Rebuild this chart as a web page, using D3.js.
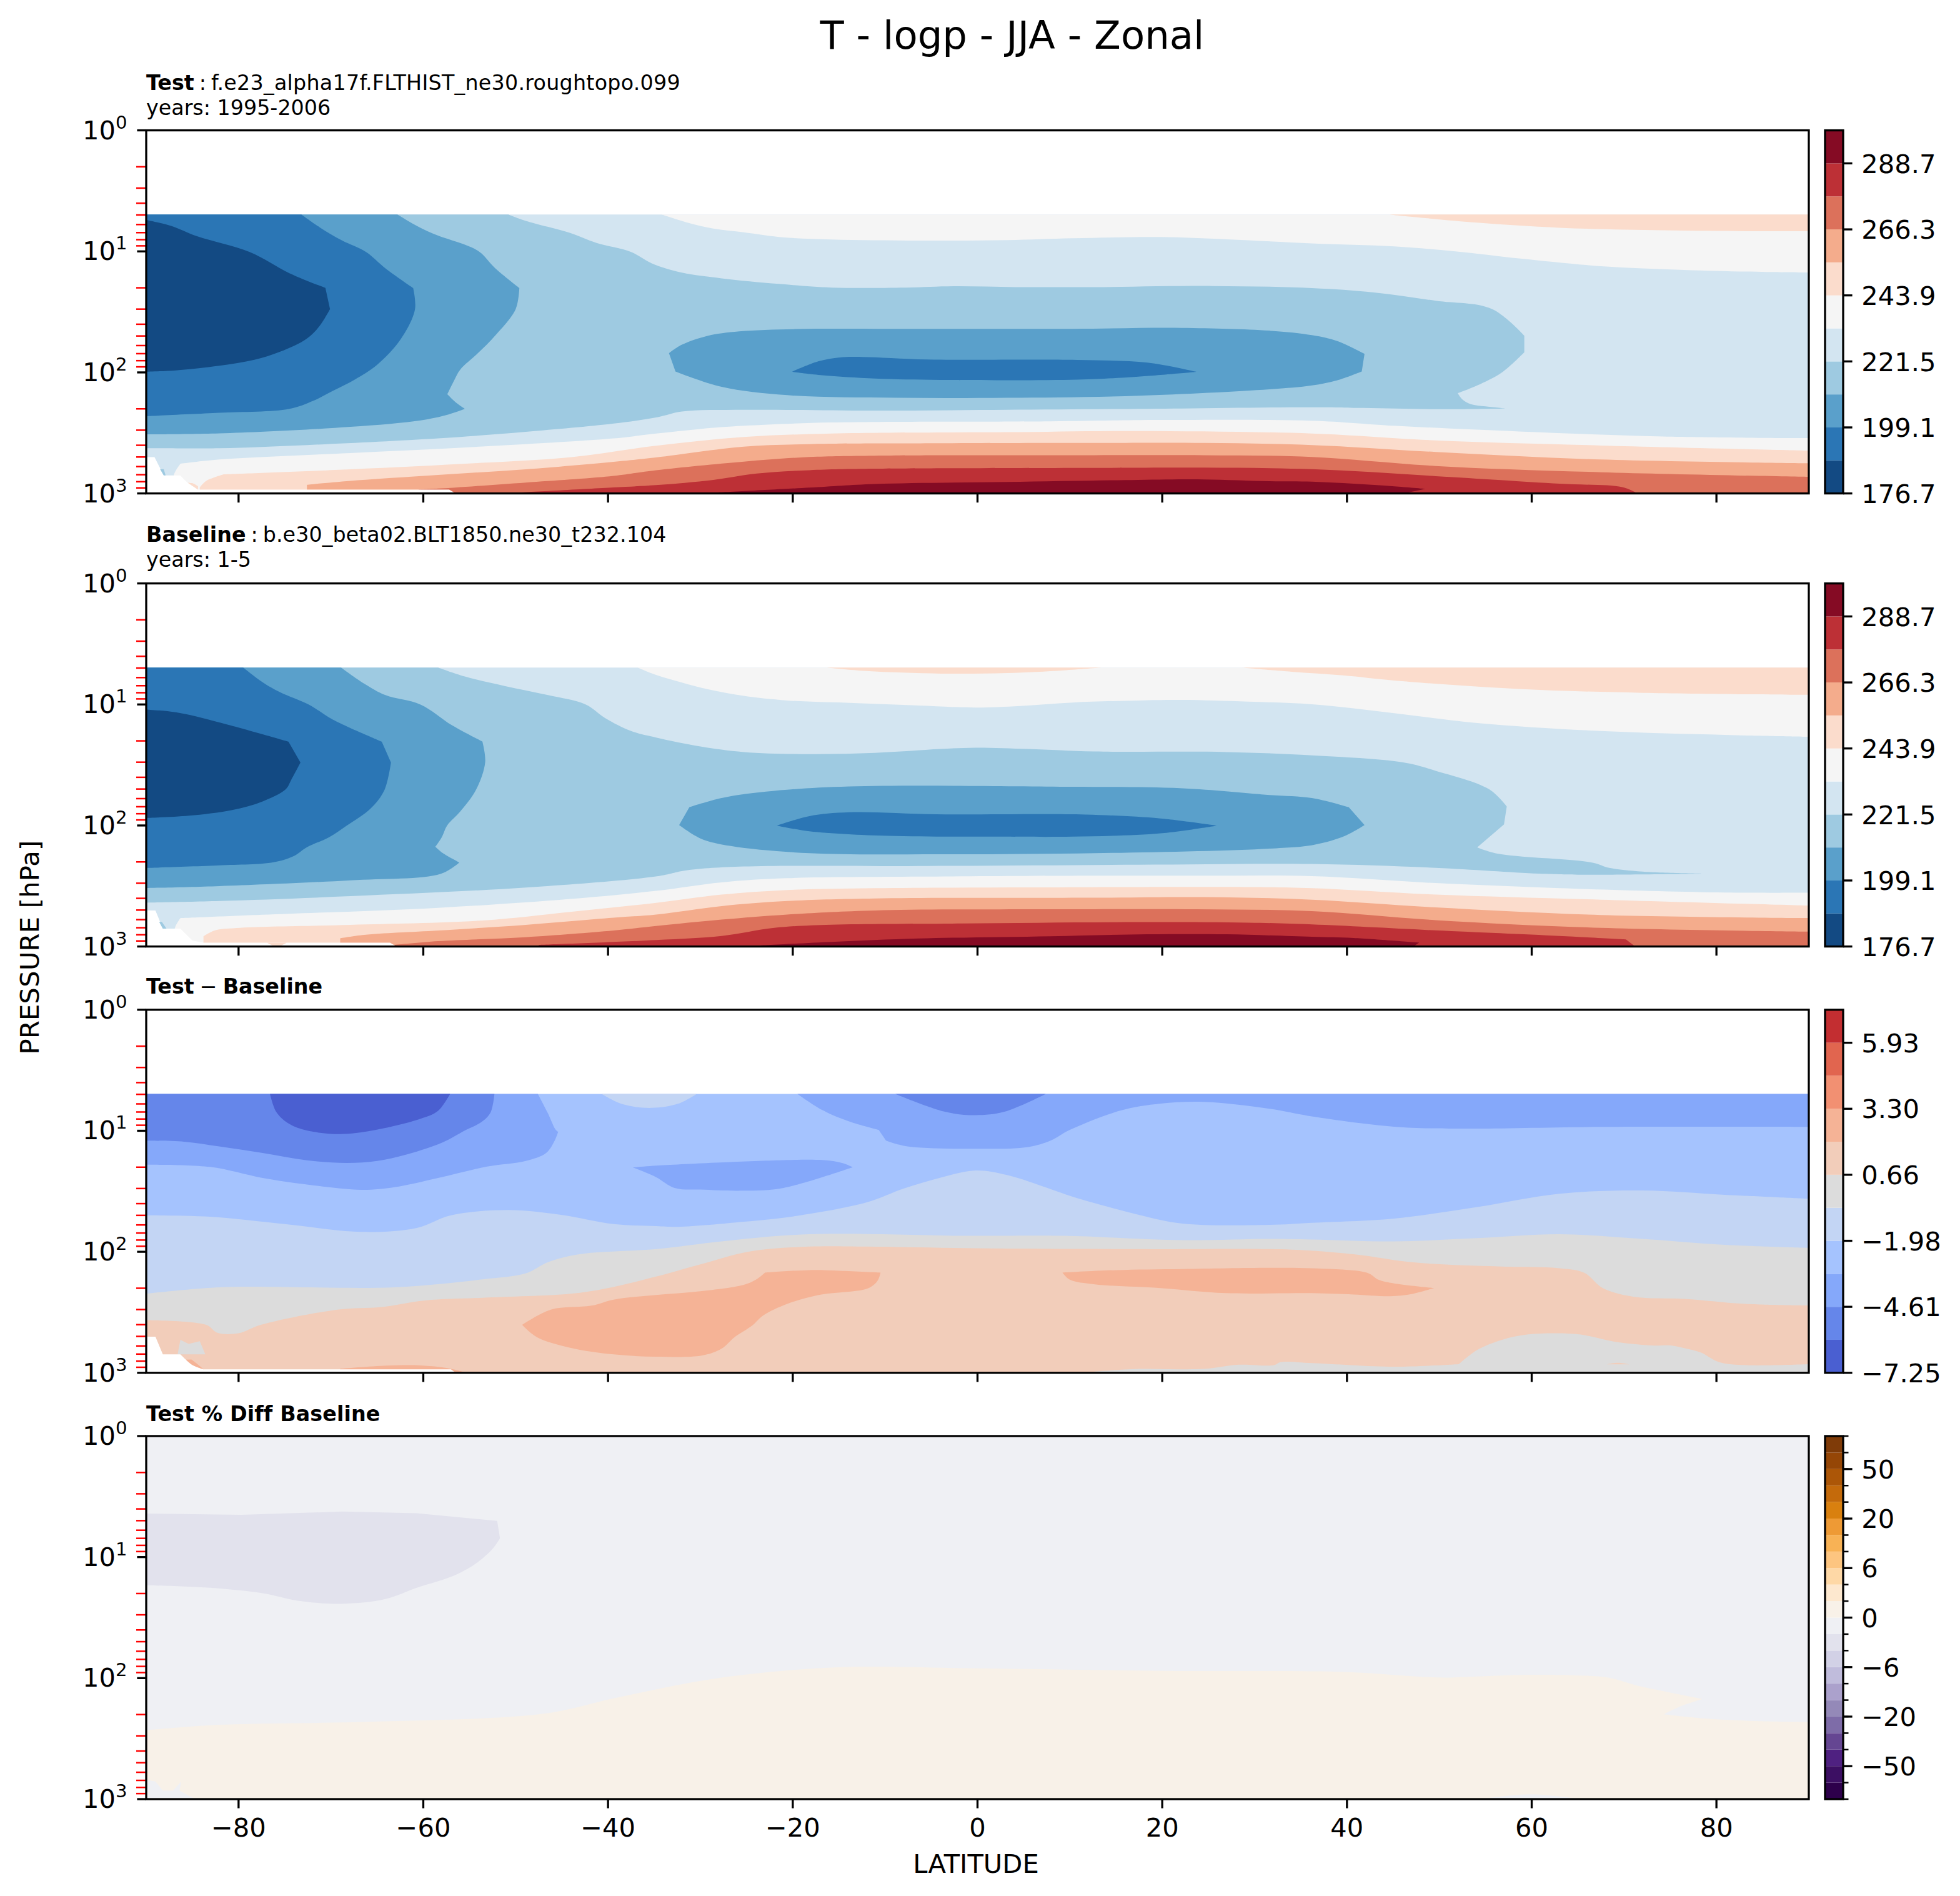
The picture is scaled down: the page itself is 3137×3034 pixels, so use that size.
<!DOCTYPE html>
<html lang="en">
<head>
<meta charset="UTF-8" />
<title>T - logp - JJA - Zonal</title>
<script src="https://d3js.org/d3.v7.min.js"></script>
<style>
  html, body { margin: 0; padding: 0; background: #fff; overflow: hidden; }
  svg { display: block; }
  text { font-family: "DejaVu Sans", sans-serif; fill: #000; }
</style>
</head>
<body>
<div id="chart"></div>
<script>
// axis values
const latTicks = [-80, -60, -40, -20, 0, 20, 40, 60, 80];
const pMajor = [1, 10, 100, 1000];
const pMinor = [2,3,4,5,6,7,8,9,20,30,40,50,60,70,80,90,200,300,400,500,600,700,800,900];

// colour bar levels, bottom to top
const tLevels = [176.7,187.9,199.1,210.3,221.5,232.7,243.9,255.1,266.3,277.5,288.7,299.9];
const tTicks = [176.7,199.1,221.5,243.9,266.3,288.7];
const diffLevels = [-7.25,-5.93,-4.61,-3.29,-1.98,-0.66,0.66,1.98,3.30,4.61,5.93,7.25];
const diffTicks = [-7.25,-4.61,-1.98,0.66,3.30,5.93];
const pctLevels = [-70,-60,-50,-40,-30,-20,-15,-10,-6,-4,-2,0,2,4,6,10,15,20,30,40,50,60,70];
const pctTicks = [-50,-20,-6,0,6,20,50];

const rdbu = ["#134a83","#2b76b5","#5aa0cb","#9ecae1","#d3e5f1","#f5f5f5","#fbdccc","#f4ac8c","#dc715b","#bd3036","#850b24"];
const cool = ["#4a5fd1","#6586ea","#85a8fa","#a5c3fe","#c3d5f4","#dcdcdc","#f2cdba","#f5b396","#f29072","#e1654f","#c32e31"];
const puor = ["#2d004b","#3c0f63","#4f2181","#654692","#7e6ca8","#9489b8","#aba1cc","#c0bcdc","#d2d1e6","#e2e2ed","#eff0f4",
              "#f8f1e8","#fde8cf","#fed8a6","#fdc580","#f8b255","#ee9a35","#d9800f","#c46a0b","#ac5607","#954606","#7f3b08"];

// contour regions, [latitude, log10(p hPa)]
const fullField = [[-90,.695],[90,.695],[90,3],[-90,3]];
const fullPanel = [[-90,0],[90,0],[90,3],[-90,3]];

// ---- Test
const testUp5 = [[-34.2,.695],[-31.4,.762],[-28.6,.812],[-25.3,.843],[-21.5,.881],[-15.8,.902],[-6.3,.911],[3.2,.907],[10.3,.892],[19.8,.881],[27,.90],[36.2,.934],[45.1,.959],[51.9,1.001],[58.6,1.058],[67.5,1.122],[76.5,1.153],[85.4,1.17],[90,1.174],[90,.695]];
const testUp6 = [[44.5,.695],[54.1,.763],[63,.805],[74.2,.826],[83.2,.833],[90,.833],[90,.695]];
const testB3 = [[-90,.695],[-50.8,.695],[-48.9,.748],[-44.1,.848],[-41.3,.929],[-37.5,1.005],[-35.6,1.086],[-34.8,1.113],[-32,1.176],[-27.7,1.223],[-21.5,1.269],[-15.8,1.299],[-7.7,1.299],[-2.5,1.288],[4.1,1.295],[12.7,1.295],[25.5,1.286],[36.2,1.303],[42.9,1.339],[49.6,1.408],[55.7,1.476],[59.2,1.697],[59.2,1.834],[56.8,1.999],[54.1,2.108],[52,2.172],[52.5,2.224],[53.4,2.262],[55,2.281],[57.1,2.298],[49.6,2.304],[41.8,2.294],[36.2,2.288],[22.1,2.298],[3.2,2.309],[-11.5,2.315],[-25.3,2.309],[-32,2.323],[-34.6,2.369],[-39.4,2.423],[-48.9,2.491],[-58.4,2.545],[-72.6,2.6],[-82.1,2.626],[-90,2.626]];
const testB2 = [[-90,.695],[-62.8,.695],[-60.7,.789],[-58.4,.87],[-55.5,.945],[-53.9,1.005],[-52.2,1.14],[-49.6,1.302],[-50,1.478],[-52.2,1.694],[-54.1,1.842],[-56,1.977],[-56.7,2.072],[-57.4,2.18],[-56.5,2.247],[-55.5,2.301],[-57.4,2.35],[-60.3,2.396],[-67.9,2.45],[-82.1,2.504],[-90,2.512]];
const testB1 = [[-90,.695],[-73.2,.695],[-71.2,.802],[-68.8,.91],[-66.2,1.005],[-64.1,1.14],[-61.1,1.302],[-60.9,1.478],[-62.4,1.72],[-65,1.937],[-67.4,2.058],[-69.8,2.153],[-71.9,2.234],[-74.5,2.301],[-82.1,2.334],[-90,2.361]];
const testB0 = [[-90,.74],[-87.3,.789],[-84.5,.875],[-78.8,1.005],[-74.5,1.18],[-70.6,1.302],[-70.1,1.478],[-71.2,1.613],[-72.6,1.72],[-75.5,1.829],[-78.3,1.896],[-82.1,1.945],[-86.8,1.983],[-90,1.994]];
const testMid2 = [[-33.4,1.841],[-32,1.771],[-29.3,1.699],[-25.8,1.661],[-19.6,1.642],[-8.7,1.64],[10.3,1.64],[22.1,1.632],[31.6,1.655],[36.3,1.693],[38.9,1.74],[41.9,1.847],[41.6,1.992],[38.9,2.066],[36.2,2.108],[31.6,2.14],[17.4,2.193],[3.2,2.21],[-8.7,2.21],[-20.6,2.188],[-27.7,2.119],[-32.7,1.992]];
const testMid1 = [[-20.1,1.995],[-17.2,1.908],[-14.9,1.876],[-12.5,1.872],[-5.4,1.893],[10.8,1.897],[18.4,1.919],[23.7,1.995],[17.4,2.035],[10.8,2.06],[-4,2.062],[-11.1,2.051],[-16.8,2.024]];
const testLow5 = [[-87,2.846],[-86.3,2.755],[-82.1,2.72],[-67.9,2.666],[-53.6,2.612],[-39.4,2.545],[-34.8,2.505],[-30,2.467],[-25.3,2.441],[-15.8,2.414],[7.9,2.404],[19.8,2.393],[36.2,2.399],[45.1,2.441],[58.6,2.488],[74.2,2.53],[90,2.543],[90,3],[-87,3]];
const testLow6 = [[-84.2,2.95],[-83.5,2.896],[-81.6,2.842],[-67.9,2.801],[-53.6,2.747],[-44.1,2.701],[-34.8,2.606],[-25.3,2.534],[-15.8,2.505],[3.2,2.494],[17.4,2.484],[36.2,2.505],[49.6,2.562],[67.5,2.604],[90,2.646],[90,3],[-84.2,3]];
const testLow7 = [[-72.6,2.968],[-72.6,2.928],[-67.9,2.896],[-58.4,2.847],[-48.9,2.801],[-39.4,2.739],[-34.8,2.703],[-25.3,2.614],[-18.2,2.593],[-11.1,2.587],[12.7,2.583],[24.5,2.583],[36.2,2.6],[49.6,2.657],[67.5,2.72],[90,2.751],[90,3],[-72.6,3]];
const testLow8 = [[-60.5,2.968],[-58.4,2.96],[-48.9,2.91],[-39.4,2.855],[-34.8,2.808],[-25.3,2.737],[-18.2,2.699],[-11.1,2.688],[12.7,2.684],[24.5,2.684],[36.2,2.699],[49.6,2.773],[67.5,2.825],[90,2.863],[90,3],[-60.5,3]];
const testLow9 = [[-49.8,2.993],[-39.4,2.95],[-34.8,2.931],[-28.6,2.888],[-23.9,2.836],[-18.2,2.808],[-11.1,2.796],[12.7,2.789],[24.5,2.787],[36.2,2.80],[49.6,2.857],[63,2.92],[69.8,2.948],[71.3,2.994],[71.3,3],[-49.8,3]];
const testLow10 = [[-28.6,2.994],[-18.2,2.952],[-11.1,2.922],[3.2,2.905],[17.4,2.888],[24.5,2.884],[31.6,2.899],[36.2,2.903],[40.7,2.92],[45.1,2.941],[48.5,2.962],[46.5,2.994],[46.5,3],[-28.6,3]];
const testMissing = [[-90,2.70],[-89.1,2.70],[-88.1,2.851],[-86.3,2.851],[-85.5,2.912],[-84.4,2.968],[-57.2,2.968],[-56.5,3],[-90,3]];
const testSliver3 = [[-88.5,2.80],[-88.1,2.80],[-87.9,2.851],[-88.1,2.851]];
const testSliver6 = [[-85.5,2.912],[-84.9,2.918],[-84.4,2.94],[-84.4,2.968]];

// ---- Baseline
const baseUp5 = [[-36.8,.695],[-34.8,.756],[-32,.819],[-29.1,.876],[-25.3,.929],[-20.6,.967],[-13.4,.988],[-6.3,1.009],[-.2,1.026],[4.6,1.013],[10.3,.984],[17.4,.967],[22.2,.963],[29.3,.977],[36.2,.999],[45.1,1.072],[54.1,1.153],[67.5,1.22],[80.9,1.252],[90,1.267],[90,.695]];
const baseUp6 = [[28.6,.695],[34,.73],[39.6,.76],[45.1,.802],[58.6,.872],[72,.904],[90,.92],[90,.695]];
const baseUp6Mid = [[-16.3,.695],[-12,.724],[-4,.745],[3.2,.741],[9.3,.718],[13.4,.695]];
const baseB3 = [[-90,.695],[-58.4,.695],[-55.5,.769],[-51.2,.847],[-46.5,.923],[-42.4,1.001],[-40.3,1.113],[-37.5,1.219],[-34.8,1.273],[-30,1.347],[-25.3,1.393],[-18.2,1.41],[-11.1,1.4],[-4,1.368],[-.2,1.357],[5.5,1.368],[12.7,1.389],[26.9,1.393],[36.2,1.421],[46,1.478],[49.6,1.548],[55.4,1.701],[57.3,1.843],[57,1.991],[54.1,2.181],[56.3,2.233],[66.6,2.307],[68.4,2.35],[72,2.381],[78.9,2.398],[65.7,2.407],[60.8,2.398],[49.6,2.35],[36.2,2.318],[17.4,2.324],[-5.4,2.335],[-25.3,2.339],[-31.5,2.371],[-34.7,2.42],[-48.9,2.513],[-67.9,2.584],[-82.1,2.624],[-90,2.638]];
const baseB2 = [[-90,.695],[-68.9,.695],[-66.4,.828],[-64.1,.923],[-60.3,1.001],[-56.9,1.172],[-53.6,1.307],[-53.3,1.476],[-54.3,1.706],[-56,1.884],[-57.4,1.998],[-58,2.097],[-58.7,2.176],[-57.9,2.228],[-56.1,2.306],[-58.1,2.399],[-67.9,2.453],[-82.1,2.501],[-90,2.517]];
const baseB1 = [[-90,.695],[-79.5,.695],[-77.4,.816],[-75.5,.899],[-72.4,1.001],[-69.8,1.125],[-64.5,1.307],[-63.5,1.48],[-64.2,1.706],[-65.7,1.86],[-68.3,2.002],[-70.2,2.097],[-72.6,2.18],[-74,2.252],[-76.2,2.304],[-82.1,2.33],[-90,2.351]];
const baseB0 = [[-90,1.042],[-86.8,1.065],[-82.1,1.148],[-74.6,1.307],[-73.3,1.48],[-74.3,1.623],[-74.9,1.701],[-77.4,1.801],[-80.7,1.872],[-85.4,1.919],[-90,1.938]];
const baseMid2 = [[-32.3,1.997],[-31.2,1.849],[-27.7,1.773],[-22.9,1.72],[-13.9,1.678],[10.3,1.68],[22.2,1.693],[31.6,1.748],[36.2,1.773],[40.2,1.849],[41.9,1.997],[39.8,2.086],[36.4,2.16],[31.6,2.191],[12.7,2.229],[-4,2.238],[-18.2,2.229],[-26.7,2.17],[-30,2.107]];
const baseMid1 = [[-21.7,2.001],[-18.2,1.923],[-13.9,1.891],[-4.4,1.908],[11.7,1.91],[19.8,1.942],[25.9,2.001],[19.8,2.065],[10.3,2.092],[2.2,2.092],[-9.6,2.086],[-18.2,2.048]];
const baseLow5 = [[-86.9,2.849],[-86.3,2.766],[-77.4,2.738],[-58.4,2.68],[-44.1,2.607],[-34.8,2.54],[-27.7,2.47],[-20.6,2.436],[-6.3,2.423],[12.7,2.415],[24.5,2.415],[36.2,2.419],[49.6,2.476],[63,2.518],[80.9,2.554],[90,2.556],[90,3],[-86.9,3]];
const baseLow6 = [[-83.8,2.968],[-83.8,2.916],[-82.6,2.868],[-80.2,2.847],[-67.9,2.821],[-53.6,2.785],[-44.1,2.714],[-34.8,2.639],[-27.7,2.571],[-20.6,2.533],[-11.1,2.518],[5.5,2.512],[26.9,2.508],[36.2,2.518],[49.6,2.571],[67.5,2.613],[90,2.662],[90,3],[-83.8,3]];
const baseLow7 = [[-69,2.968],[-69,2.932],[-66.4,2.904],[-58.4,2.868],[-48.9,2.821],[-39.4,2.762],[-34.8,2.736],[-27.7,2.666],[-20.6,2.624],[-11.1,2.603],[12.7,2.597],[24.5,2.592],[36.2,2.613],[49.6,2.677],[67.5,2.74],[90,2.765],[90,3],[-69,3]];
const baseLow8 = [[-63.1,2.987],[-58.4,2.956],[-48.9,2.923],[-39.4,2.868],[-34.8,2.831],[-27.7,2.778],[-20.6,2.736],[-11.1,2.702],[12.7,2.692],[23.6,2.692],[36.2,2.708],[49.6,2.782],[67.5,2.846],[90,2.877],[90,3],[-63.1,3]];
const baseLow9 = [[-47.5,2.987],[-34.8,2.947],[-27.7,2.913],[-22,2.846],[-15.8,2.82],[-1.6,2.81],[15,2.799],[29.3,2.803],[36.2,2.818],[49.6,2.867],[63,2.913],[70.2,2.941],[71.2,3],[-47.5,3]];
const baseLow10 = [[-23.9,2.993],[-15.8,2.962],[-6.3,2.934],[7.9,2.915],[18.4,2.899],[26.9,2.899],[36.2,2.92],[40.7,2.93],[47.8,2.968],[47.2,3],[-23.9,3]];
const baseMissing = [[-90,2.702],[-89,2.702],[-88.2,2.852],[-86.3,2.852],[-85,2.951],[-83.8,2.968],[-63.6,2.968],[-62.9,3],[-90,3]];
const baseSliver3 = [[-88.6,2.797],[-88.3,2.797],[-87.8,2.852],[-88.2,2.852]];
const baseBump6 = [[-76.9,2.968],[-76.2,2.994],[-75.5,2.994],[-74.8,2.968]];

// ---- Test - Baseline
const diffC2 = [[-90,.695],[-47.6,.695],[-46.5,.857],[-45.7,.988],[-45.4,1.009],[-45.8,1.085],[-46.7,1.183],[-48.9,1.249],[-53.1,1.296],[-58.4,1.39],[-63.1,1.466],[-66.7,1.488],[-72.6,1.444],[-77.4,1.39],[-83.1,1.299],[-90,1.281]];
const diffC1 = [[-90,.695],[-52.3,.695],[-52.7,.846],[-53.6,.922],[-55.5,.998],[-57.9,1.096],[-61.7,1.194],[-65,1.249],[-68.3,1.266],[-72.6,1.244],[-77.4,1.183],[-82.1,1.129],[-85.9,1.09],[-90,1.081]];
const diffC0 = [[-76.6,.695],[-75.9,.846],[-74.5,.944],[-72.6,.998],[-69,1.027],[-65.5,.998],[-60.3,.901],[-58.4,.835],[-57.1,.695]];
const diffTop4 = [[-40.7,.695],[-38.4,.781],[-35.3,.811],[-32.4,.776],[-30.4,.695]];
const diffTop2 = [[-19.5,.695],[-16.8,.829],[-13.9,.923],[-10.7,.993],[-9.9,1.082],[-7.7,1.128],[-.2,1.149],[5.5,1.134],[7.9,1.082],[10,.993],[15.5,.833],[19.8,.776],[24.5,.761],[31.6,.818],[36.2,.881],[45.1,.966],[51.9,.982],[67.5,.968],[90,.968],[90,.695]];
const diffTop1 = [[-8.9,.695],[-3.5,.843],[-.2,.871],[2.9,.843],[7.4,.695]];
const diffIsle2 = [[-37.3,1.303],[-34.8,1.288],[-21.5,1.244],[-16.8,1.242],[-14.6,1.267],[-13.5,1.301],[-21,1.472],[-25.3,1.495],[-30,1.486],[-32.8,1.472],[-34.8,1.383]];
const diffC4 = [[-90,1.699],[-83.1,1.71],[-75,1.771],[-66.7,1.836],[-60.7,1.803],[-57,1.699],[-50.8,1.655],[-45.1,1.695],[-39.4,1.771],[-34.8,1.788],[-32.4,1.794],[-25.3,1.752],[-19.6,1.704],[-12,1.592],[-8,1.478],[-4,1.387],[-.2,1.328],[3.2,1.366],[7.9,1.482],[10.3,1.545],[17.4,1.693],[22.2,1.767],[31.6,1.777],[36.2,1.76],[45.1,1.725],[54.1,1.63],[63,1.52],[72,1.493],[80.9,1.529],[90,1.562],[90,3],[-90,3]];
const diffC5 = [[-90,2.347],[-82.1,2.293],[-63.1,2.293],[-53.6,2.228],[-48.9,2.178],[-46.5,2.086],[-43.2,2.021],[-34.8,1.978],[-27.7,1.914],[-18.2,1.855],[-1.6,1.868],[9.3,1.868],[22.2,1.904],[31.6,1.893],[36.2,1.898],[45.1,1.914],[54.1,1.887],[63,1.855],[72,1.893],[80.9,1.942],[90,1.967],[90,3],[-90,3]];
const diffC6 = [[-90,2.565],[-83.5,2.604],[-82.3,2.669],[-80,2.673],[-77.6,2.604],[-69.3,2.478],[-64.5,2.456],[-59.8,2.402],[-53.6,2.38],[-44.1,2.347],[-40.3,2.304],[-34.8,2.205],[-30,2.104],[-24.8,1.999],[-18.2,1.957],[-12,1.957],[-.2,1.971],[17.4,1.978],[34,1.982],[40.7,2.02],[47.4,2.089],[56.3,2.121],[63,2.136],[65.7,2.174],[67.7,2.3],[71.1,2.372],[76.5,2.389],[83.2,2.431],[90,2.444],[90,3],[-90,3]];
const diffC7a = [[-49.3,2.604],[-46.2,2.478],[-41.8,2.445],[-39.4,2.395],[-34.8,2.357],[-30,2.326],[-25.3,2.273],[-24,2.231],[-23,2.172],[-18.2,2.151],[-14.9,2.157],[-10.5,2.172],[-10.8,2.237],[-11.8,2.3],[-17.2,2.357],[-20.6,2.431],[-23.2,2.526],[-24.4,2.61],[-26.3,2.705],[-27.7,2.8],[-29.8,2.857],[-34.8,2.867],[-39.4,2.848],[-44.1,2.793],[-47.7,2.706]];
const diffC7b = [[9.2,2.172],[15,2.151],[22.2,2.142],[31.6,2.132],[36.2,2.136],[42.2,2.174],[43.4,2.231],[45.1,2.262],[49.4,2.3],[46.9,2.351],[44.7,2.367],[40.7,2.353],[36.2,2.342],[26.9,2.342],[19.8,2.3],[12.7,2.269],[10,2.231]];
const diffC7c = [[-69,2.967],[-64,2.941],[-60.3,2.939],[-57.4,2.961],[-55.3,3],[-69,3]];
const diffIsle5 = [[-86.6,2.848],[-86.3,2.728],[-85.4,2.761],[-84.2,2.739],[-83.6,2.848]];
const diffFloor5 = [[12.7,2.99],[17.4,2.968],[24.5,2.968],[28.3,2.933],[32.1,2.937],[32.8,2.912],[36.2,2.92],[45.1,2.95],[52.1,2.929],[54.1,2.811],[56.8,2.727],[59.5,2.684],[62.6,2.673],[65.3,2.684],[69.3,2.747],[73.3,2.775],[74.9,2.773],[76.5,2.796],[78.3,2.832],[80.3,2.912],[83.2,2.937],[90,2.929],[90,3],[12.7,3]];
const diffBlip6 = [[68.1,2.93],[69.3,2.917],[70.6,2.93]];
const diffMissing = [[-90,2.702],[-89,2.702],[-88.2,2.848],[-86.3,2.848],[-85,2.935],[-83.8,2.971],[-57,2.971],[-56.5,3],[-90,3]];
const diffSliver7 = [[-85.7,2.891],[-85.1,2.89],[-84.5,2.925],[-83.8,2.971],[-85,2.935]];

// ---- Test % Diff Baseline
const pctLow = [[-90,.64],[-79.7,.651],[-68.8,.624],[-60.7,.638],[-52,.701],[-51.7,.844],[-52.4,.923],[-54.1,1.042],[-56.5,1.148],[-60.7,1.254],[-64.1,1.347],[-68.8,1.386],[-73.6,1.36],[-77.4,1.299],[-83.1,1.254],[-90,1.233]];
const pctWarm = [[-90,2.431],[-82.1,2.386],[-65.5,2.36],[-47,2.294],[-39.4,2.167],[-31.4,2.042],[-25,1.97],[-15,1.91],[0,1.92],[20,1.94],[40,1.95],[49.8,1.995],[53.4,1.989],[58.8,1.974],[64.2,1.976],[68.2,1.995],[71.4,2.061],[75,2.119],[78.5,2.172],[76.1,2.233],[74.3,2.299],[78.6,2.333],[84.1,2.354],[90,2.362],[90,3],[-90,3]];
const pctCorner = [[-90,2.841],[-89,2.854],[-88.2,2.929],[-87.1,2.929],[-86.2,2.854],[-86.4,2.929],[-84.7,3],[-90,3]];
const pctFloor = [[54.4,3],[59.9,2.96],[65.3,3]];

// panel drawing
const W = 3137, H = 3034;
const left = 234, right = 2895, cbLeft = 2921, cbRight = 2950;
const panelH = 581;
const lw = 3.3;

const svg = d3.select("#chart").append("svg").attr("width", W).attr("height", H);
const x = d3.scaleLinear().domain([-90, 90]).range([left, right]);

// contours bend smoothly between points but keep real corners
const smooth = d3.line().curve(d3.curveCatmullRom.alpha(0.5));
const smoothClosed = d3.line().curve(d3.curveCatmullRomClosed.alpha(0.5));
function regionPath(raw, toPx) {
  const pts = raw.map(toPx);
  const n = pts.length;
  const corners = [];
  pts.forEach((p, i) => {
    const a = pts[(i + n - 1) % n], b = pts[(i + 1) % n];
    let t = Math.abs(Math.atan2(b[1] - p[1], b[0] - p[0]) - Math.atan2(p[1] - a[1], p[0] - a[0]));
    if (t > Math.PI) t = 2 * Math.PI - t;
    const la = Math.hypot(p[0] - a[0], p[1] - a[1]), lb = Math.hypot(b[0] - p[0], b[1] - p[1]);
    const onFrame = raw[i][1] <= 0.695 || raw[i][1] >= 3 || Math.abs(raw[i][0]) === 90;
    if (t > 0.6 || onFrame || Math.max(la, lb) / Math.min(la, lb) > 6) corners.push(i);
  });
  if (!corners.length) return smoothClosed(pts);
  let d = "";
  corners.forEach((c, k) => {
    const next = k + 1 < corners.length ? corners[k + 1] : corners[0] + n;
    const run = [];
    for (let i = c; i <= next; i++) run.push(pts[i % n]);
    const s = smooth(run);
    d += k === 0 ? s : s.replace(/^M/, "L");
  });
  return d + "Z";
}

function drawPanel(id, top, layers, levels, colors, cbTicks, cbFmt, showX) {
  const bottom = top + panelH;
  const y = d3.scaleLog().domain([1, 1000]).range([top, bottom]);
  const toPx = d => [x(d[0]), y(Math.pow(10, d[1]))];

  svg.append("clipPath").attr("id", "clip" + id)
    .append("rect").attr("x", left).attr("y", top).attr("width", right - left).attr("height", panelH);

  svg.append("g").attr("clip-path", "url(#clip" + id + ")")
    .selectAll("path").data(layers).enter().append("path")
    .attr("d", d => regionPath(d[1], toPx))
    .attr("fill", d => d[0]);

  // red minor ticks, black major ones
  svg.append("g").attr("transform", `translate(${left},0)`)
    .call(d3.axisLeft(y).tickValues(pMinor).tickFormat("").tickSize(16).tickSizeOuter(0).offset(0))
    .call(g => g.select(".domain").remove())
    .call(g => g.selectAll("line").attr("stroke", "red").attr("stroke-width", 2.5));

  const yAxis = svg.append("g").attr("transform", `translate(${left},0)`)
    .call(d3.axisLeft(y).tickValues(pMajor).tickSize(14.6).tickSizeOuter(0).offset(0));
  yAxis.select(".domain").remove();
  yAxis.selectAll("line").attr("stroke", "#000").attr("stroke-width", lw);
  yAxis.selectAll("text").each(function (d) {
    const t = d3.select(this).text(null).attr("x", -30.5).attr("y", 14).attr("dy", 0)
      .attr("text-anchor", "end").style("font-size", "41.67px");
    t.append("tspan").text("10");
    t.append("tspan").attr("dy", -17).style("font-size", "29.2px").text(Math.round(Math.log10(d)));
  });
  yAxis.attr("font-family", null).attr("font-size", null);

  const xAxis = svg.append("g").attr("transform", `translate(0,${bottom})`)
    .call(d3.axisBottom(x).tickValues(latTicks).tickSize(14.6).tickSizeOuter(0).offset(0)
      .tickFormat(showX ? d3.format("d") : ""));
  xAxis.select(".domain").remove();
  xAxis.selectAll("line").attr("stroke", "#000").attr("stroke-width", lw);
  xAxis.attr("font-family", null).attr("font-size", null);
  xAxis.selectAll("text").attr("y", 60.3).attr("dy", 0).style("font-size", "41.67px");

  svg.append("rect").attr("x", left).attr("y", top).attr("width", right - left).attr("height", panelH)
    .attr("fill", "none").attr("stroke", "#000").attr("stroke-width", lw);

  // colour bar
  const c = d3.scalePoint().domain(levels).range([bottom, top]);
  svg.append("g").selectAll("rect").data(colors).enter().append("rect")
    .attr("x", cbLeft).attr("width", cbRight - cbLeft)
    .attr("y", (d, i) => c(levels[i + 1]))
    .attr("height", (d, i) => c(levels[i]) - c(levels[i + 1]))
    .attr("fill", d => d);

  if (levels.length > 12) {
    svg.append("g").attr("transform", `translate(${cbRight},0)`)
      .call(d3.axisRight(c).tickValues(levels).tickFormat("").tickSize(8.5).tickSizeOuter(0).offset(0))
      .call(g => g.select(".domain").remove())
      .call(g => g.selectAll("line").attr("stroke", "#000").attr("stroke-width", 2.5));
  }
  const cbAxis = svg.append("g").attr("transform", `translate(${cbRight},0)`)
    .call(d3.axisRight(c).tickValues(cbTicks).tickFormat(cbFmt).tickSize(14.6).tickPadding(14.6).tickSizeOuter(0).offset(0));
  cbAxis.select(".domain").remove();
  cbAxis.selectAll("line").attr("stroke", "#000").attr("stroke-width", lw);
  cbAxis.attr("font-family", null).attr("font-size", null);
  cbAxis.selectAll("text").attr("dy", "0.365em").style("font-size", "41.67px");

  svg.append("rect").attr("x", cbLeft).attr("y", top).attr("width", cbRight - cbLeft).attr("height", panelH)
    .attr("fill", "none").attr("stroke", "#000").attr("stroke-width", lw);
}

const white = "#ffffff";
drawPanel("a", 208.6, [
  [rdbu[4], fullField], [rdbu[5], testUp5], [rdbu[6], testUp6], [rdbu[3], testB3], [rdbu[2], testB2],
  [rdbu[1], testB1], [rdbu[0], testB0], [rdbu[2], testMid2], [rdbu[1], testMid1],
  [rdbu[5], testLow5], [rdbu[6], testLow6], [rdbu[7], testLow7], [rdbu[8], testLow8], [rdbu[9], testLow9], [rdbu[10], testLow10],
  [white, testMissing], [rdbu[3], testSliver3], [rdbu[6], testSliver6]
], tLevels, rdbu, tTicks, d3.format(".1f"), false);

drawPanel("b", 933.6, [
  [rdbu[4], fullField], [rdbu[5], baseUp5], [rdbu[6], baseUp6], [rdbu[6], baseUp6Mid], [rdbu[3], baseB3], [rdbu[2], baseB2],
  [rdbu[1], baseB1], [rdbu[0], baseB0], [rdbu[2], baseMid2], [rdbu[1], baseMid1],
  [rdbu[5], baseLow5], [rdbu[6], baseLow6], [rdbu[7], baseLow7], [rdbu[8], baseLow8], [rdbu[9], baseLow9], [rdbu[10], baseLow10],
  [white, baseMissing], [rdbu[3], baseSliver3], [rdbu[6], baseBump6]
], tLevels, rdbu, tTicks, d3.format(".1f"), false);

drawPanel("c", 1615.8, [
  [cool[3], fullField], [cool[2], diffC2], [cool[1], diffC1], [cool[0], diffC0], [cool[4], diffTop4],
  [cool[2], diffTop2], [cool[1], diffTop1], [cool[2], diffIsle2], [cool[4], diffC4], [cool[5], diffC5], [cool[6], diffC6],
  [cool[7], diffC7a], [cool[7], diffC7b], [cool[7], diffC7c], [cool[5], diffIsle5], [cool[5], diffFloor5], [cool[6], diffBlip6],
  [white, diffMissing], [cool[7], diffSliver7]
], diffLevels, cool, diffTicks, d3.format(".2f"), false);

drawPanel("d", 2298, [
  [puor[10], fullPanel], [puor[9], pctLow], [puor[11], pctWarm], [puor[10], pctCorner], [puor[10], pctFloor]
], pctLevels, puor, pctTicks, d3.format("d"), true);

// titles
svg.append("text").attr("x", 1620).attr("y", 78).attr("text-anchor", "middle").style("font-size", "62.5px")
  .text("T - logp - JJA - Zonal");

function caseTitle(name, rest, years, y1, y2, spacing) {
  const t = svg.append("text").attr("x", left).attr("y", y1).style("font-size", "33.33px");
  t.append("tspan").style("font-weight", "bold").text(name);
  t.append("tspan").attr("dx", 8).text(":");
  t.append("tspan").attr("dx", 8).style("letter-spacing", spacing + "px").text(rest);
  svg.append("text").attr("x", left).attr("y", y2).style("font-size", "33.33px").text(years);
}
caseTitle("Test", "f.e23_alpha17f.FLTHIST_ne30.roughtopo.099", "years: 1995-2006", 144, 184, 0.25);
caseTitle("Baseline", "b.e30_beta02.BLT1850.ne30_t232.104", "years: 1-5", 867, 907, 0.06);

const dt = svg.append("text").attr("x", left).attr("y", 1590).style("font-size", "33.33px").style("font-weight", "bold");
dt.append("tspan").text("Test");
dt.append("tspan").attr("dx", 9).style("font-weight", "normal").text("\u2212");
dt.append("tspan").attr("dx", 9).text("Baseline");

svg.append("text").attr("x", left).attr("y", 2273.5).style("font-size", "33.33px").style("font-weight", "bold")
  .style("letter-spacing", "0.1px").text("Test % Diff Baseline");

svg.append("text").attr("x", 1562).attr("y", 2997).attr("text-anchor", "middle").style("font-size", "41.67px").text("LATITUDE");
svg.append("text").attr("transform", "translate(62,1516) rotate(-90)").attr("text-anchor", "middle")
  .style("font-size", "41.67px").style("letter-spacing", "0.2px").text("PRESSURE [hPa]");
</script>
</body>
</html>
